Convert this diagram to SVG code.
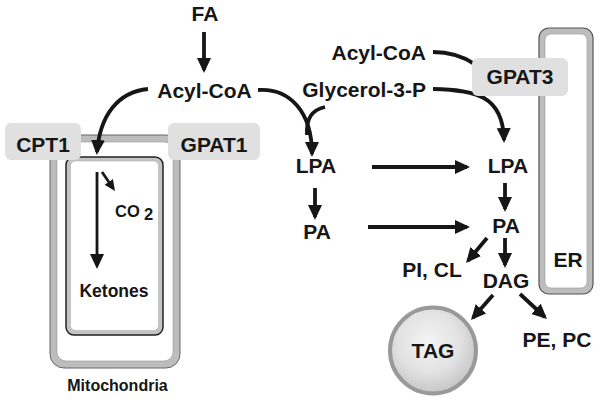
<svg xmlns="http://www.w3.org/2000/svg" width="600" height="401" viewBox="0 0 600 401">
<defs>
<style>
.t{font-family:"Liberation Sans",Arial,sans-serif;font-weight:bold;fill:#161616;}
.l{font-size:21px;text-anchor:middle;}
.c{fill:none;stroke:#161616;stroke-width:3.8;}
.enz{fill:#e0e0e0;}
</style>
<marker id="ah" markerUnits="userSpaceOnUse" markerWidth="17" markerHeight="15" refX="12" refY="7" orient="auto">
<path d="M0,0 L15,7 L0,14 z" fill="#161616"/>
</marker>
<marker id="ahs" markerUnits="userSpaceOnUse" markerWidth="12" markerHeight="11" refX="8" refY="5" orient="auto">
<path d="M0,0 L11,5 L0,10 z" fill="#161616"/>
</marker>
<radialGradient id="tg" cx="0.45" cy="0.4" r="0.6">
<stop offset="0" stop-color="#f4f4f4"/>
<stop offset="0.6" stop-color="#e2e2e2"/>
<stop offset="1" stop-color="#c6c6c6"/>
</radialGradient>
</defs>

<g id="mitochondria">
<rect x="50" y="135" width="130" height="233" rx="14" fill="#bdbdbd" stroke="#666" stroke-width="1"/>
<rect x="57" y="142" width="116" height="219" rx="9" fill="#fff" stroke="#999" stroke-width="0.6"/>
<rect x="66" y="157" width="97" height="178" rx="8" fill="#c4c4c4" stroke="#222" stroke-width="1.5"/>
<rect x="70.5" y="161" width="88" height="169.5" rx="5" fill="#fff" stroke="#aaa" stroke-width="0.5"/>
<text class="t" x="117.5" y="391" font-size="16" text-anchor="middle">Mitochondria</text>
</g>

<g id="er">
<rect x="539" y="28" width="54" height="266" rx="10" fill="#bdbdbd" stroke="#555" stroke-width="1.2"/>
<rect x="545" y="34" width="42" height="254" rx="6" fill="#fff" stroke="#999" stroke-width="0.6"/>
<text class="t l" x="568" y="267">ER</text>
</g>

<g id="connectors">
<path class="c" d="M204,32 L204,70" marker-end="url(#ah)"/>
<path class="c" d="M148,89 C118,92 100,115 97,152" marker-end="url(#ah)"/>
<path class="c" d="M258,90 C290,88 312,112 312,154" marker-end="url(#ah)"/>
<path class="c" d="M325,107 C312,110 306,118 307,135"/>
<path class="c" d="M433,52 C465,52 490,70 500,95"/>
<path class="c" d="M433,89 C475,90 503,95 504,140" marker-end="url(#ah)"/>
<path class="c" d="M372,167 L467,167" marker-end="url(#ah)"/>
<path class="c" d="M315,188 L315,217" marker-end="url(#ah)"/>
<path class="c" d="M368,227 L467,227" marker-end="url(#ah)"/>
<path class="c" d="M505,183 L505,209" marker-end="url(#ah)"/>
<path class="c" d="M487,238 L468,260.7" marker-end="url(#ah)"/>
<path class="c" d="M505,238 L505,265" marker-end="url(#ah)"/>
<path class="c" d="M493,295 L473,317.7" marker-end="url(#ah)"/>
<path class="c" d="M520,294 L544.8,317" marker-end="url(#ah)"/>
<path class="c" d="M97,172 L97,266" marker-end="url(#ah)" style="stroke-width:2.8"/>
<path class="c" d="M102,172 L113.3,188.5" marker-end="url(#ahs)" style="stroke-width:2.8"/>
</g>

<g id="cpt1">
<rect class="enz" x="5" y="123" width="76" height="37" rx="6"/>
<text class="t l" x="43" y="152">CPT1</text>
</g>
<g id="gpat1">
<rect class="enz" x="168" y="123" width="92" height="37" rx="6"/>
<text class="t l" x="214" y="152">GPAT1</text>
</g>
<g id="gpat3">
<rect class="enz" x="472" y="58" width="96" height="38" rx="6"/>
<text class="t l" x="520" y="84">GPAT3</text>
</g>

<g id="fa"><text class="t l" x="205" y="21">FA</text></g>
<g id="acylcoa1"><text class="t l" x="204.5" y="98">Acyl-CoA</text></g>
<g id="acylcoa2"><text class="t" x="426" y="60" font-size="21" text-anchor="end">Acyl-CoA</text></g>
<g id="glycerol3p"><text class="t" x="426" y="97" font-size="21" text-anchor="end">Glycerol-3-P</text></g>
<g id="lpa1"><text class="t l" x="316" y="173">LPA</text></g>
<g id="pa1"><text class="t l" x="317" y="239">PA</text></g>
<g id="lpa2"><text class="t l" x="508" y="173">LPA</text></g>
<g id="pa2"><text class="t l" x="506" y="233">PA</text></g>
<g id="picl"><text class="t l" x="432" y="277">PI, CL</text></g>
<g id="dag"><text class="t l" x="506" y="288">DAG</text></g>
<g id="pepc"><text class="t l" x="557" y="347">PE, PC</text></g>
<g id="tag">
<circle cx="433" cy="350.5" r="43" fill="url(#tg)" stroke="#999" stroke-width="4"/>
<text class="t l" x="433" y="358">TAG</text>
</g>
<g id="co2"><text class="t" x="115" y="217" font-size="16.5">CO<tspan x="144" y="220">2</tspan></text></g>
<g id="ketones"><text class="t" x="114" y="297" font-size="17.5" text-anchor="middle">Ketones</text></g>
</svg>
